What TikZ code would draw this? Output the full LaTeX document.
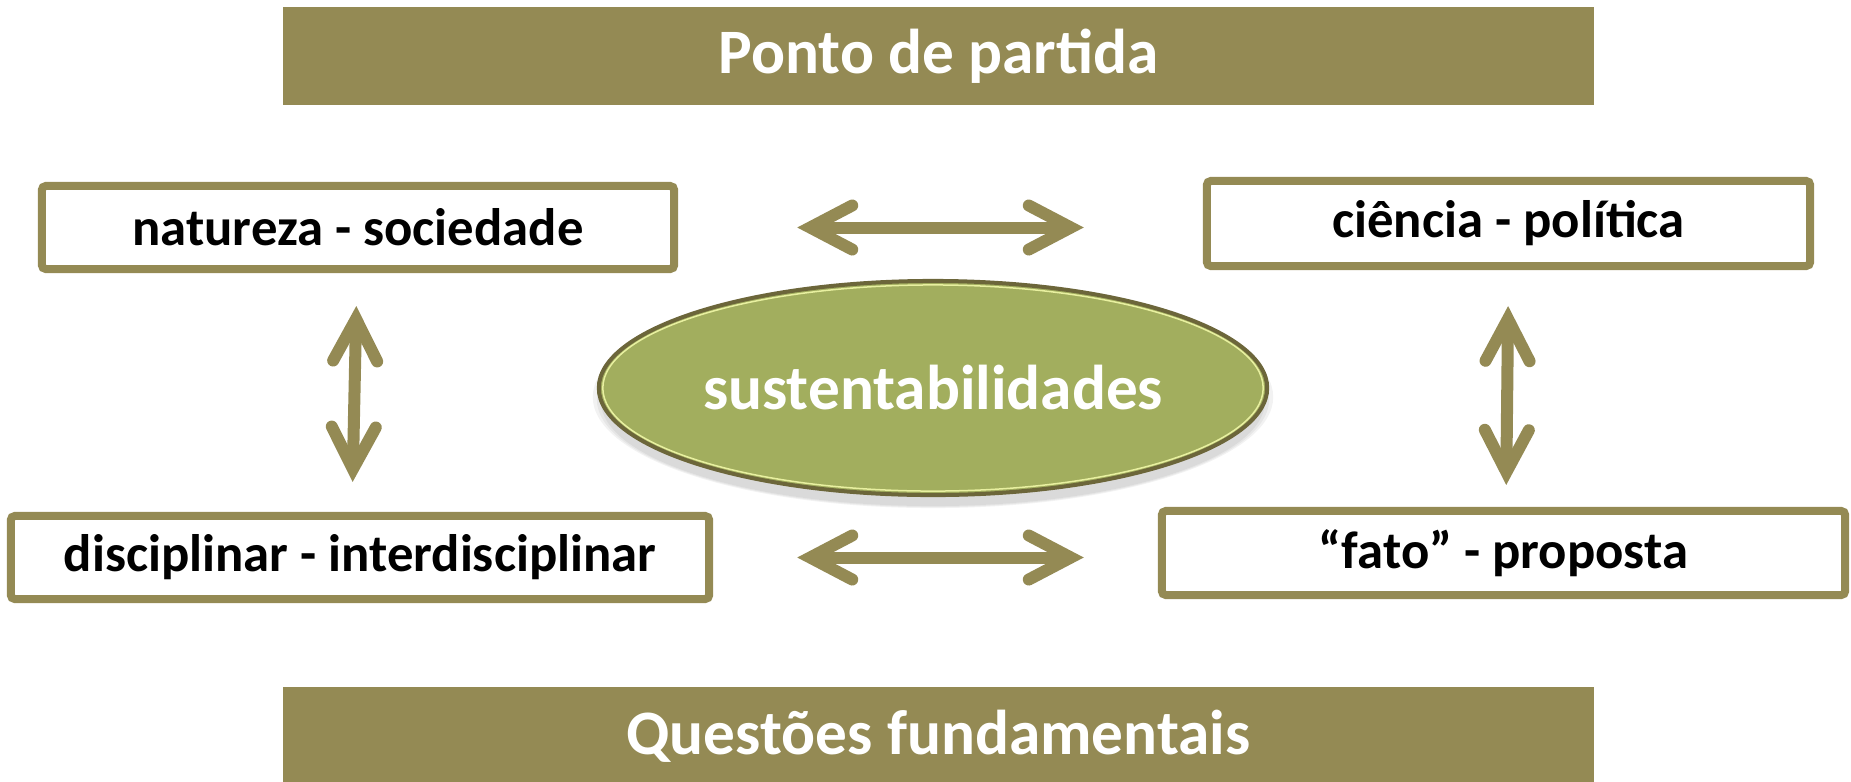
\documentclass[tikz,border=0pt]{standalone}
\usepackage{fontspec}
\setmainfont{Carlito}
\usetikzlibrary{arrows.meta,shapes.geometric}
\definecolor{barolive}{RGB}{148,138,84}
\definecolor{ovalfill}{RGB}{162,174,94}
\definecolor{ovaldark}{RGB}{108,102,58}
\definecolor{ovallight}{RGB}{232,240,160}
\tikzset{
  banner/.style={fill=barolive, minimum width=13.11cm, minimum height=0.98cm, inner sep=0,
    text=white, font=\fontsize{18}{22}\selectfont\bfseries},
  pairbox/.style={draw=barolive, line width=0.08cm, rounded corners=0.04cm, fill=white,
    inner sep=0, font=\fontsize{15}{18}\selectfont\bfseries},
  oval/.style={ellipse, fill=ovalfill, draw=ovaldark, line width=0.04cm, inner sep=0,
    minimum width=6.68cm, minimum height=2.14cm, text=white, font=\fontsize{18}{22}\selectfont\bfseries},
  twoway/.style={barolive, line width=0.12cm,
    arrows={Straight Barb[length=0.42cm,width=0.44cm,line cap=round,line join=miter]-Straight Barb[length=0.42cm,width=0.44cm,line cap=round,line join=miter]}}
}
\begin{document}
\begin{tikzpicture}[x=0.01cm,y=-0.01cm]
\useasboundingbox (0,0) rectangle (1851,781);
\node[banner] (start) at (938.5,56) {Ponto de partida};
\node[banner] (quest) at (938.5,736) {Questões fundamentais};
\node[pairbox, minimum width=6.32cm, minimum height=0.83cm] (natsoc) at (358,227.5) {natureza - sociedade};
\node[pairbox, minimum width=6.03cm, minimum height=0.85cm] (cienpol) at (1508.5,223.5) {ciência - política};
\node[pairbox, minimum width=6.98cm, minimum height=0.83cm] (discint) at (360,557.5) {disciplinar - interdisciplinar};
\node[pairbox, minimum width=6.83cm, minimum height=0.84cm] (fatoprop) at (1503.5,553) {“fato” - proposta};
% soft shadow under the oval
\fill[black, opacity=0.05] (933,397) ellipse [x radius=3.40cm, y radius=1.11cm];
\fill[black, opacity=0.05] (933,399) ellipse [x radius=3.36cm, y radius=1.08cm];
\fill[black, opacity=0.05] (933,401) ellipse [x radius=3.32cm, y radius=1.05cm];
\node[oval] (sust) at (933,388) {sustentabilidades};
\draw[ovallight, line width=0.015cm] (sust.center) ellipse [x radius=3.30cm, y radius=1.03cm];
\draw[twoway, shorten <=1.19cm, shorten >=1.19cm] (natsoc.east) -- (natsoc.east -| cienpol.west);
\draw[twoway, shorten <=0.84cm, shorten >=0.74cm] (discint.east) -- (discint.east -| fatoprop.west);
\draw[twoway, shorten <=0.33cm, shorten >=0.30cm] ([xshift=-0.01cm]natsoc.south) -- ([xshift=-0.08cm]discint.north);
\draw[twoway, shorten <=0.36cm, shorten >=0.22cm] (cienpol.south) -- ([xshift=0.025cm]fatoprop.north);
\end{tikzpicture}
\end{document}
